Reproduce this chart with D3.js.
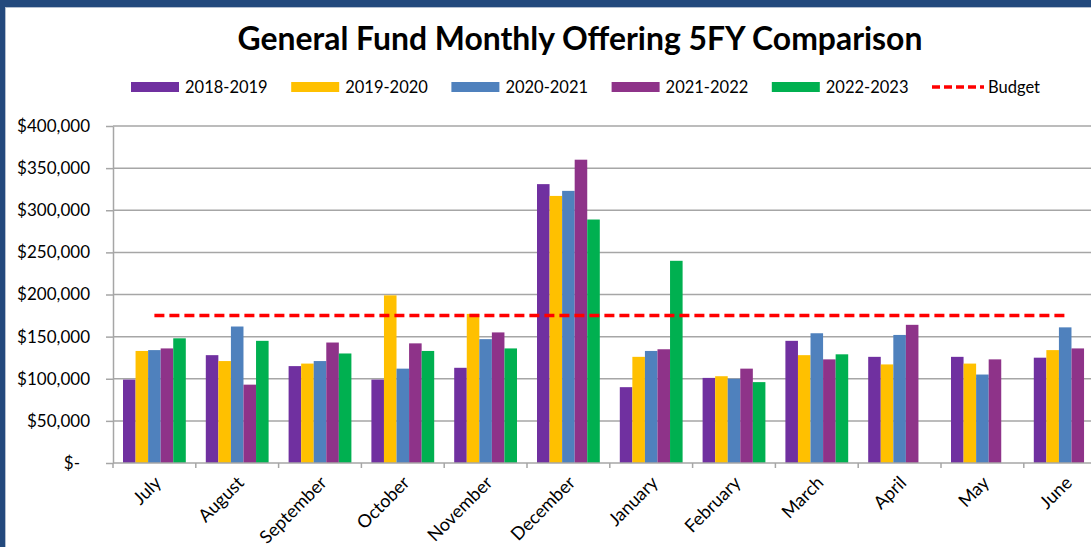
<!DOCTYPE html>
<html><head><meta charset="utf-8">
<script src="https://cdn.jsdelivr.net/npm/d3@7/dist/d3.min.js"></script>
<style>body{margin:0;background:#fff;overflow:hidden}svg{display:block}</style>
</head><body><svg id="c" width="1091" height="547"></svg>
<script>
const months = ["July","August","September","October","November","December","January","February","March","April","May","June"];
const seriesNames = ["2018-2019","2019-2020","2020-2021","2021-2022","2022-2023"];
const fy2018 = [99000,128000,115000,99000,113000,331000,90000,101000,145000,126000,126000,125000];
const fy2019 = [133000,121000,118000,199000,177000,317000,126000,103000,128000,117000,118000,134000];
const fy2020 = [134000,162000,121000,112000,147000,323000,133000,100000,154000,152000,105000,161000];
const fy2021 = [136000,93000,143000,142000,155000,360000,135000,112000,123000,164000,123000,136000];
const fy2022 = [148000,145000,130000,133000,136000,289000,240000,96000,129000,null,null,null];
const budget = [175000,175000,175000,175000,175000,175000,175000,175000,175000,175000,175000,175000];
const yTicks = [0,50000,100000,150000,200000,250000,300000,350000,400000];
const colors = ["#7030a0","#ffc000","#4f81bd","#8e3389","#00b050"];
const budgetColor = "#ff0000";
const title = "General Fund Monthly Offering 5FY Comparison";

const allSeries = [fy2018, fy2019, fy2020, fy2021, fy2022];
const svg = d3.select("#c");
const W = 1091, H = 547;
svg.append("rect").attr("width", W).attr("height", H).attr("fill", "#fff");

const left = 113, bandW = 82.8, baseY = 463, topY = 126;
const x = d3.scaleBand().domain(months).range([left, left + bandW * months.length]).padding(0);
const x1 = d3.scaleBand().domain(seriesNames).range([10, bandW - 10]).padding(0);
const y = d3.scaleLinear().domain([0, 400000]).range([baseY, topY]);
const font = "Lato, 'Open Sans', sans-serif";

// gridlines
svg.append("g").selectAll("line").data(yTicks.filter(d => d > 0)).join("line")
  .attr("x1", left).attr("x2", W).attr("y1", d => y(d)).attr("y2", d => y(d))
  .attr("stroke", "#a6a6a6").attr("stroke-width", 1.5);

// y axis
const yAxis = svg.append("g").attr("transform", `translate(${left},0)`)
  .call(d3.axisLeft(y).tickValues(yTicks).tickSize(7).tickSizeOuter(0).tickPadding(16)
    .tickFormat(d => d === 0 ? "$-" : "$" + d3.format(",")(d)));
yAxis.select(".domain").attr("stroke", "#a6a6a6").attr("stroke-width", 1.5);
yAxis.selectAll(".tick line").attr("stroke", "#a6a6a6").attr("stroke-width", 1.5);
yAxis.selectAll(".tick text").attr("font-family", font).attr("font-size", 17).attr("fill", "#000")
  .attr("dx", d => d === 0 ? -10 : 0);

// bars
const groups = svg.append("g").selectAll("g").data(months).join("g")
  .attr("transform", m => `translate(${x(m)},0)`);
groups.selectAll("rect").data((m, i) => seriesNames.map((s, k) => ({s, k, v: allSeries[k][i]})).filter(d => d.v != null))
  .join("rect")
  .attr("x", d => x1(d.s)).attr("width", x1.bandwidth())
  .attr("y", d => y(d.v)).attr("height", d => baseY - y(d.v))
  .attr("fill", d => colors[d.k]);

// x axis
svg.append("line").attr("x1", left).attr("x2", W).attr("y1", baseY).attr("y2", baseY)
  .attr("stroke", "#a6a6a6").attr("stroke-width", 1.5);
svg.append("g").selectAll("line").data(months).join("line")
  .attr("x1", m => x(m)).attr("x2", m => x(m)).attr("y1", baseY).attr("y2", baseY + 5)
  .attr("stroke", "#a6a6a6").attr("stroke-width", 1.5);
svg.append("g").selectAll("text").data(months).join("text")
  .attr("transform", m => `translate(${x(m) + bandW / 2 - 1},${baseY + 12}) rotate(-45)`)
  .attr("text-anchor", "end").attr("dy", "0.7em")
  .attr("font-family", font).attr("font-size", 18).attr("fill", "#000")
  .text(m => m);

// budget line
const line = d3.line().x((d, i) => x(months[i]) + bandW / 2).y(d => y(d));
svg.append("path").datum(budget).attr("d", line).attr("fill", "none")
  .attr("stroke", budgetColor).attr("stroke-width", 3.5).attr("stroke-dasharray", "10,5");

// title
const t = svg.append("text").attr("x", 580).attr("y", 50).attr("text-anchor", "middle")
  .attr("font-family", font).attr("font-weight", "bold").attr("font-size", 30).attr("fill", "#000")
  .text(title);
const tl = t.node().getComputedTextLength();
t.attr("font-size", 30 * 685 / tl);

// legend
const legY = 87, legStart = 131, legStep = 160.2;
const leg = svg.append("g");
seriesNames.forEach((s, k) => {
  const lx = legStart + k * legStep;
  leg.append("rect").attr("x", lx).attr("y", legY - 5).attr("width", 48).attr("height", 10).attr("fill", colors[k]);
  leg.append("text").attr("x", lx + 54).attr("y", legY).attr("dy", "0.35em")
    .attr("font-family", font).attr("font-size", 16.5).attr("fill", "#000").text(s);
});
{
  const lx = legStart + 5 * legStep;
  leg.append("line").attr("x1", lx).attr("x2", lx + 52).attr("y1", legY).attr("y2", legY)
    .attr("stroke", budgetColor).attr("stroke-width", 3.5).attr("stroke-dasharray", "8,4");
  leg.append("text").attr("x", lx + 56).attr("y", legY).attr("dy", "0.35em")
    .attr("font-family", font).attr("font-size", 16.5).attr("fill", "#000").text("Budget");
}

// frame border
svg.append("rect").attr("x", 0).attr("y", 0).attr("width", W).attr("height", 7).attr("fill", "#23497d");
svg.append("rect").attr("x", 0).attr("y", 0).attr("width", 5).attr("height", H).attr("fill", "#23497d");
svg.append("line").attr("x1", 5).attr("x2", W).attr("y1", 7.5).attr("y2", 7.5).attr("stroke", "#b4bfd0").attr("stroke-width", 1);
svg.append("line").attr("x1", 5.5).attr("x2", 5.5).attr("y1", 7).attr("y2", H).attr("stroke", "#b4bfd0").attr("stroke-width", 1);
</script></body></html>
